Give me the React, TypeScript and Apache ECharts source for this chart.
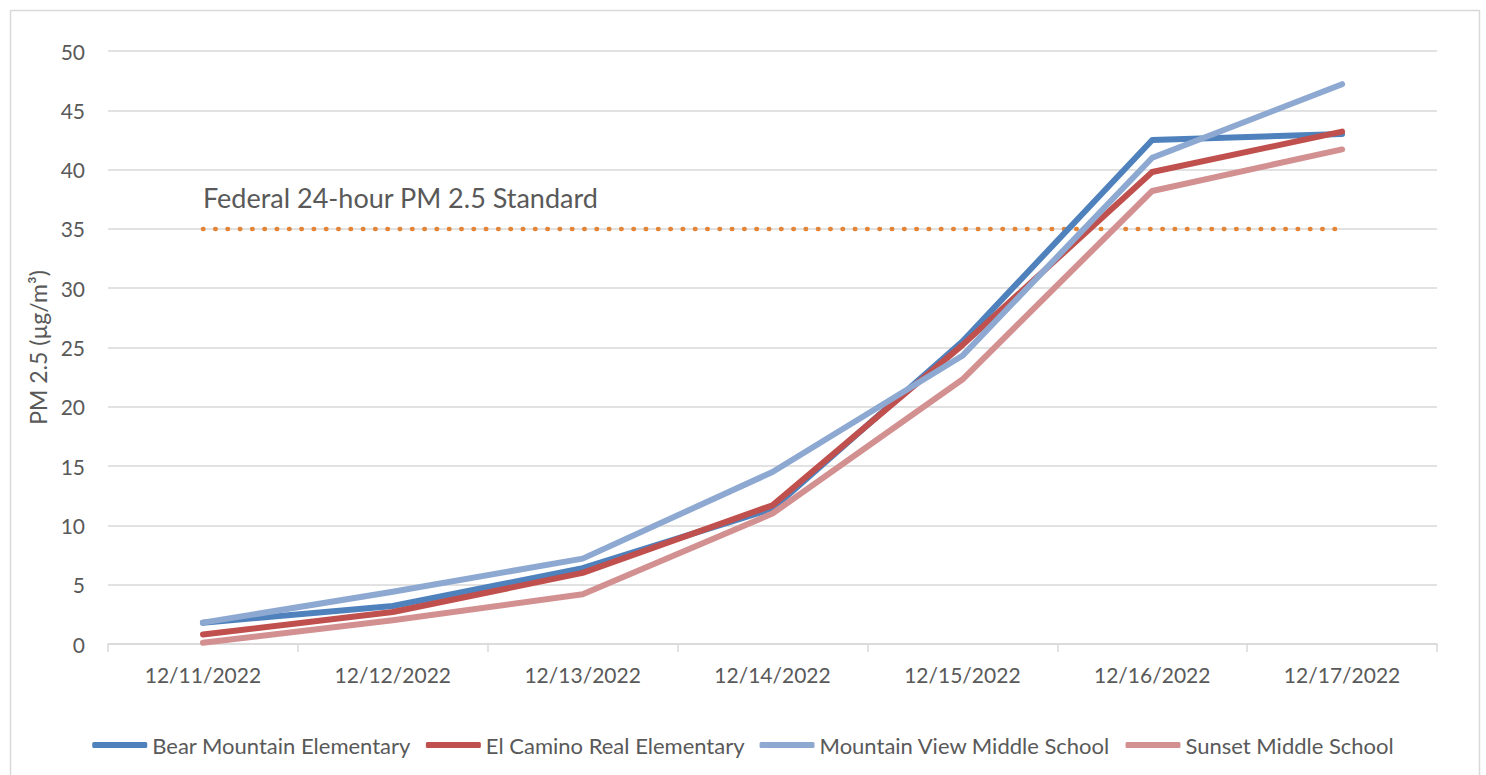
import React, { useEffect, useRef } from "react";
import * as echarts from "echarts";

const categories = ["12/11/2022", "12/12/2022", "12/13/2022", "12/14/2022", "12/15/2022", "12/16/2022", "12/17/2022"];
const bearMountain = [1.8, 3.2, 6.4, 11.4, 25.5, 42.5, 43.0];
const elCamino = [0.8, 2.7, 6.0, 11.7, 25.2, 39.8, 43.2];
const mountainView = [1.8, 4.4, 7.2, 14.5, 24.3, 41.0, 47.2];
const sunset = [0.1, 2.0, 4.2, 11.0, 22.3, 38.2, 41.7];
const federalStandard = [35, 35, 35, 35, 35, 35, 35];
const standardLabel = "Federal 24-hour PM 2.5 Standard";
const seriesNames = ["Bear Mountain Elementary", "El Camino Real Elementary", "Mountain View Middle School", "Sunset Middle School"];

const FONT = "Lato, 'Open Sans', sans-serif";
const TXT = "#595959";

export default function App() {
  const ref = useRef<HTMLDivElement>(null);
  useEffect(() => {
    const chart = echarts.init(ref.current!, null, { renderer: "svg" });
    const lineSeries = (name: string, data: number[], color: string) => ({
      name,
      type: "line",
      data,
      showSymbol: false,
      symbol: "none",
      color,
      lineStyle: { color, width: 6, cap: "round", join: "round" },
      itemStyle: { color },
      emphasis: { disabled: true },
      z: 3,
    });
    chart.setOption({
      animation: false,
      textStyle: { fontFamily: FONT },
      graphic: [
        {
          type: "rect",
          shape: { x: 10.5, y: 10.5, width: 1469, height: 800 },
          style: { fill: "none", stroke: "#d9d9d9", lineWidth: 1.5 },
          silent: true,
          z: -1,
        },
      ],
      grid: { left: 108, right: 49, top: 51, bottom: 131 },
      legend: {
        bottom: 14,
        left: "center",
        data: seriesNames,
        icon: "roundRect",
        itemWidth: 55,
        itemHeight: 6,
        itemGap: 15,
        textStyle: { color: TXT, fontSize: 22, fontFamily: FONT },
      },
      xAxis: {
        type: "category",
        data: categories,
        boundaryGap: true,
        axisLine: { lineStyle: { color: "#d9d9d9", width: 1.5 } },
        axisTick: { show: true, length: 8, lineStyle: { color: "#d9d9d9", width: 1.5 } },
        axisLabel: { color: TXT, fontSize: 21, margin: 20, fontFamily: FONT },
      },
      yAxis: {
        type: "value",
        min: 0,
        max: 50,
        interval: 5,
        name: "PM 2.5 (µg/m³)",
        nameLocation: "middle",
        nameGap: 57,
        nameRotate: 90,
        nameTextStyle: { color: TXT, fontSize: 23, fontFamily: FONT },
        axisLine: { show: false },
        axisTick: { show: false },
        axisLabel: { color: TXT, fontSize: 21, margin: 23, fontFamily: FONT },
        splitLine: { lineStyle: { color: "#d9d9d9", width: 1.5 } },
      },
      series: [
        {
          name: standardLabel,
          type: "line",
          data: federalStandard,
          showSymbol: false,
          symbol: "none",
          lineStyle: { color: "#E38437", width: 4.5, type: [0.5, 11.8], cap: "round" },
          emphasis: { disabled: true },
          markPoint: {
            silent: true,
            symbol: "circle",
            symbolSize: 1,
            itemStyle: { color: "rgba(0,0,0,0)" },
            label: {
              show: true,
              position: "top",
              distance: 17,
              align: "left",
              formatter: standardLabel,
              color: TXT,
              fontSize: 27,
              fontFamily: FONT,
            },
            data: [{ coord: [0, federalStandard[0]] }],
          },
          z: 2,
        },
        lineSeries(seriesNames[0], bearMountain, "#4F81BD"),
        lineSeries(seriesNames[1], elCamino, "#C0504D"),
        lineSeries(seriesNames[2], mountainView, "#8EA9D1"),
        lineSeries(seriesNames[3], sunset, "#D39090"),
      ],
    });
    return () => chart.dispose();
  }, []);
  return <div ref={ref} style={{ position: "fixed", left: 0, top: 0, width: 1486, height: 775, background: "#fff" }} />;
}
